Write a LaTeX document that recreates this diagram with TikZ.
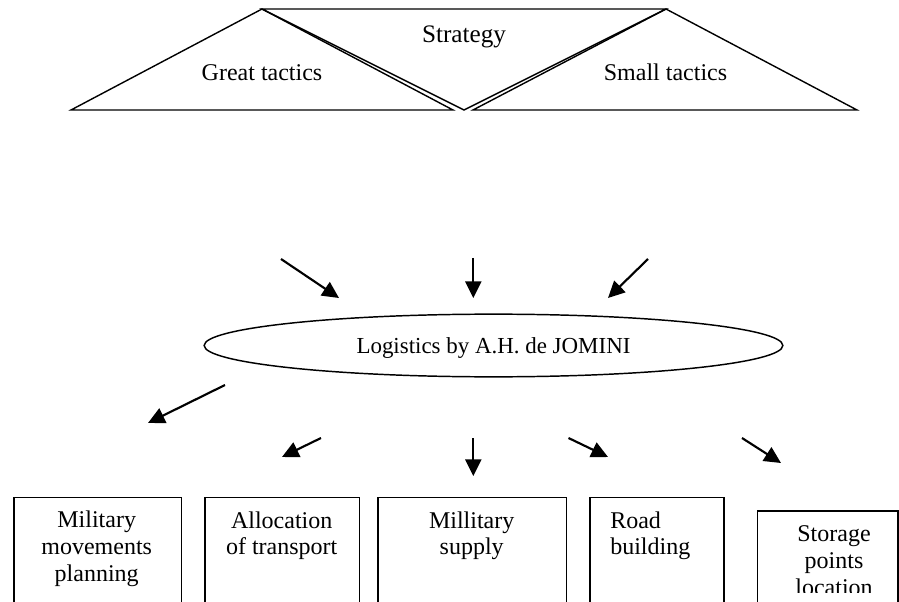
\documentclass[tikz,border=0pt]{standalone}
\usepackage{fontspec}
\setmainfont{Liberation Serif}
\usetikzlibrary{arrows.meta,shapes.geometric}

\tikzset{
  tri/.style={line width=1.05pt, line join=miter},
  arr/.style={line width=1.6pt, -{Triangle[length=12.5pt,width=12pt]}},
  boxframe/.style={draw, line width=1.3pt, inner sep=0pt, anchor=north west},
  lbl/.style={font=\fontsize{18pt}{20pt}\selectfont, inner sep=0pt, align=center}
}

\begin{document}
\begin{tikzpicture}[x=0.75pt, y=-0.75pt]
  \useasboundingbox (0,0) rectangle (899,602);
  \clip (0,0) rectangle (899,602);

  % --- strategy and the two kinds of tactics ---
  \coordinate (gL) at (71,110);
  \coordinate (gR) at (453,110);
  \coordinate (sTopL) at (262,9);
  \coordinate (sTopR) at (666,9);
  \coordinate (sBot) at (464,110);
  \coordinate (tL) at (473,110);
  \coordinate (tR) at (857,110);

  \draw[tri] (sTopL) -- (gL) -- (gR) -- cycle;
  \draw[tri] (sTopL) -- (sTopR) -- (sBot) -- cycle;
  \draw[tri] (sTopR) -- (tL) -- (tR) -- cycle;

  \node[font=\fontsize{18.9pt}{20pt}\selectfont, inner sep=0pt, anchor=base]
        (strategy) at (464,43) {Strategy};
  \node[lbl, anchor=base] (great) at (262,81) {Great tactics};
  \node[lbl, anchor=base] (small) at (665.5,81) {Small tactics};

  % --- central concept ---
  \node[draw, ellipse, line width=1.1pt, inner sep=0pt, text depth=0pt,
        minimum width=434pt, minimum height=47pt,
        font=\fontsize{17.2pt}{19pt}\selectfont]
        (logi) at (493.5,345.5) {Logistics by A.H. de JOMINI};

  % --- incoming arrows ---
  \coordinate (inA1) at (281,259);  \coordinate (inB1) at (339,298);
  \coordinate (inA2) at (473.3,258);\coordinate (inB2) at (473.3,298);
  \coordinate (inA3) at (648,259);  \coordinate (inB3) at (608,298);
  \draw[arr] (inA1) -- (inB1);
  \draw[arr] (inA2) -- (inB2);
  \draw[arr] (inA3) -- (inB3);

  % --- outgoing arrows ---
  \coordinate (outA1) at (225,385);   \coordinate (outB1) at (148,423);
  \coordinate (outA2) at (321,438);   \coordinate (outB2) at (282,457);
  \coordinate (outA3) at (473.3,438); \coordinate (outB3) at (473.3,476);
  \coordinate (outA4) at (568.5,438); \coordinate (outB4) at (608,457);
  \coordinate (outA5) at (742,438);   \coordinate (outB5) at (781,463);
  \draw[arr] (outA1) -- (outB1);
  \draw[arr] (outA2) -- (outB2);
  \draw[arr] (outA3) -- (outB3);
  \draw[arr] (outA4) -- (outB4);
  \draw[arr] (outA5) -- (outB5);

  % --- the branches of logistics ---
  \node[boxframe, minimum width=125.4pt, minimum height=92pt] (box1) at (13.3,496.7) {};
  \node[boxframe, minimum width=115.8pt, minimum height=92pt] (box2) at (204.3,496.7) {};
  \node[boxframe, minimum width=141.3pt, minimum height=92pt] (box3) at (377.3,496.7) {};
  \node[boxframe, minimum width=100.5pt, minimum height=92pt] (box4) at (589.3,496.7) {};
  \node[boxframe, minimum width=105.5pt, minimum height=82.5pt] (box5) at (756.7,510) {};

  % labels are anchored on the baseline of their last line
  \node[lbl, anchor=base] (t1) at (96.7,581.3) {Military\\movements\\planning};
  \node[lbl, anchor=base] (t2) at (281.7,554.7) {Allocation\\of transport};
  \node[lbl, anchor=base] (t3) at (471.7,554.7) {Millitary\\supply};
  \node[lbl, align=left, anchor=base west] (t4) at (610,554.7) {Road\\building};
  \begin{scope}
    \clip (740,500) rectangle (899,592);
    \node[lbl, anchor=base] (t5) at (834,595.3) {Storage\\points\\location};
  \end{scope}
\end{tikzpicture}
\end{document}
